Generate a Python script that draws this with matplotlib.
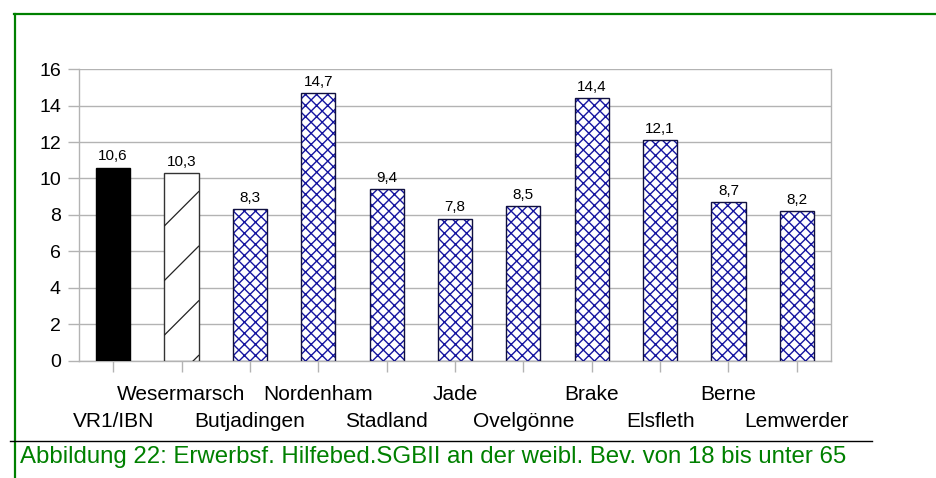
import matplotlib
matplotlib.use("Agg")
import matplotlib.pyplot as plt
from matplotlib.lines import Line2D
import numpy as np

plt.rcParams['font.family'] = ['Liberation Sans', 'DejaVu Sans']

categories = ["VR1/IBN", "Wesermarsch", "Butjadingen", "Nordenham", "Stadland",
              "Jade", "Ovelgönne", "Brake", "Elsfleth", "Berne", "Lemwerder"]
values = [10.6, 10.3, 8.3, 14.7, 9.4, 7.8, 8.5, 14.4, 12.1, 8.7, 8.2]
value_labels = ["10,6", "10,3", "8,3", "14,7", "9,4", "7,8", "8,5", "14,4", "12,1", "8,7", "8,2"]
yticks = [0, 2, 4, 6, 8, 10, 12, 14, 16]
caption = "Abbildung 22: Erwerbsf. Hilfebed.SGBII an der weibl. Bev. von 18 bis unter 65"

W, H = 936, 478
fig = plt.figure(figsize=(W / 100, H / 100), dpi=100)
fig.patch.set_facecolor("white")

left, right, top, bottom = 79, 831, 69.3, 360.5
ax = fig.add_axes([left / W, 1 - bottom / H, (right - left) / W, (bottom - top) / H])

n = len(categories)
x = np.arange(n)
grid_c = "#b3b3b3"

ax.set_xlim(-0.5, n - 0.5)
ax.set_ylim(0, 16)
ax.set_yticks(yticks)
ax.set_yticklabels([str(t) for t in yticks], fontsize=14)
ax.yaxis.grid(True, color=grid_c, linewidth=1)
ax.set_axisbelow(True)
ax.tick_params(axis="y", length=8, color=grid_c, width=1, pad=5)
ax.set_xticks(x)
ax.set_xticklabels([])
ax.tick_params(axis="x", length=8, color=grid_c, width=1)
for s in ["left", "right", "bottom"]:
    ax.spines[s].set_color(grid_c)
    ax.spines[s].set_linewidth(1)
ax.spines["top"].set_visible(False)

bw = 0.5
# first bar: solid black
ax.bar(x[0], values[0], width=bw, color="black", edgecolor="black", linewidth=1, zorder=3)
# second bar: white with sparse diagonal lines
b2 = ax.bar(x[1], values[1], width=bw, color="white", edgecolor="#333333", linewidth=1, zorder=3)[0]
# remaining: navy crosshatch
plt.rcParams['hatch.linewidth'] = 1.0
ax.bar(x[2:], values[2:], width=bw, color="white", edgecolor="#1515a0",
       hatch="xxx", linewidth=0, zorder=3)
ax.bar(x[2:], values[2:], width=bw, fill=False, edgecolor="#101040", linewidth=1, zorder=4)

# diagonal lines inside bar 2 (45 degrees in pixels, spacing 3 units vertically)
px0 = ax.transData.transform((0, 0))
pxx = ax.transData.transform((1, 0))[0] - px0[0]
pxy = ax.transData.transform((0, 1))[1] - px0[1]
slope = pxx / pxy
xl, xr = x[1] - bw / 2, x[1] + bw / 2
for k in range(-2, 6):
    y0 = -1.6 + 3 * k
    ln = Line2D([xl, xr], [y0, y0 + (xr - xl) * slope], color="#222222", linewidth=0.9, zorder=4)
    ax.add_line(ln)
    ln.set_clip_path(b2)

for xi, v, lab in zip(x, values, value_labels):
    ax.annotate(lab, (xi, v), xytext=(0, 3), textcoords="offset points",
                ha="center", va="bottom", fontsize=11, zorder=5)

# two-row category labels
for i, c in enumerate(categories):
    off = -39.5 if i % 2 == 1 else -66.5
    ax.annotate(c, xy=(x[i], 0), xycoords=("data", "axes fraction"),
                xytext=(0, off * 0.72), textcoords="offset points",
                ha="center", va="baseline", fontsize=15, annotation_clip=False)

# green frame (top and left)
green = "#008000"
fig.add_artist(Line2D([14 / W, 1.0], [1 - 13.5 / H, 1 - 13.5 / H], color=green, linewidth=1.6,
                      transform=fig.transFigure))
fig.add_artist(Line2D([14.5 / W, 14.5 / W], [0, 1 - 13.5 / H], color=green, linewidth=1.6,
                      transform=fig.transFigure))
# caption rule and caption
fig.add_artist(Line2D([10 / W, 872 / W], [1 - 441 / H, 1 - 441 / H], color="black", linewidth=1,
                      transform=fig.transFigure))
fig.text(20 / W, 1 - 463 / H, caption, color=green, fontsize=17.3, ha="left", va="baseline")

fig.savefig("out.png", dpi=100, facecolor="white")
